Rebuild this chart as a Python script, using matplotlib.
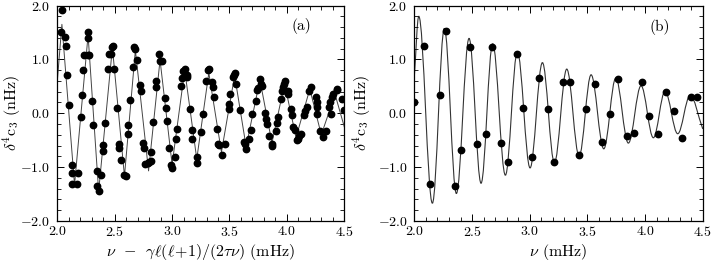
import matplotlib
matplotlib.use("Agg")
import matplotlib.pyplot as plt
from matplotlib.path import Path
from matplotlib.patches import PathPatch
from matplotlib.ticker import MultipleLocator, FuncFormatter

plt.rcParams["font.family"] = "serif"
plt.rcParams["font.serif"] = ["cmr10", "DejaVu Serif"]
plt.rcParams["mathtext.fontset"] = "cm"
plt.rcParams["axes.unicode_minus"] = False

# panel (a): measured points (frequency in mHz, delta^4 c3 in nHz)
a_freq = [2.032, 2.038, 2.064, 2.076, 2.087, 2.099, 2.128, 2.128, 2.131, 2.169,
          2.180, 2.204, 2.215, 2.227, 2.235, 2.267, 2.267, 2.270, 2.276, 2.305,
          2.307, 2.343, 2.343, 2.363, 2.381, 2.400, 2.401, 2.413, 2.439, 2.450,
          2.465, 2.480, 2.486, 2.497, 2.517, 2.535, 2.535, 2.552, 2.584, 2.596,
          2.619, 2.619, 2.633, 2.657, 2.671, 2.676, 2.694, 2.718, 2.727, 2.749,
          2.758, 2.767, 2.790, 2.800, 2.814, 2.814, 2.836, 2.857, 2.857, 2.886,
          2.897, 2.909, 2.935, 2.944, 2.953, 2.973, 2.993, 2.999, 3.022, 3.037,
          3.045, 3.075, 3.084, 3.098, 3.112, 3.130, 3.130, 3.159, 3.176, 3.176,
          3.220, 3.220, 3.252, 3.266, 3.293, 3.313, 3.318, 3.348, 3.356, 3.368,
          3.394, 3.403, 3.412, 3.432, 3.461, 3.496, 3.496, 3.504, 3.533, 3.542,
          3.548, 3.560, 3.591, 3.629, 3.635, 3.644, 3.672, 3.684, 3.700, 3.731,
          3.737, 3.745, 3.763, 3.774, 3.780, 3.810, 3.818, 3.829, 3.847, 3.870,
          3.873, 3.902, 3.916, 3.925, 3.949, 3.955, 3.963, 3.975, 3.983, 4.007,
          4.012, 4.040, 4.047, 4.056, 4.070, 4.091, 4.099, 4.108, 4.120, 4.152,
          4.160, 4.172, 4.195, 4.212, 4.253, 4.260, 4.260, 4.260, 4.288, 4.317,
          4.338, 4.370, 4.380, 4.384, 4.390, 4.405, 4.434, 4.440, 4.477, 4.497]
a_dc3 = [1.50, 1.91, 1.42, 1.25, 0.71, 0.155, -0.966, -1.108, -1.316, -1.316,
         -1.107, -0.07, 0.34, 0.81, 1.077, 1.077, 1.40, 1.51, 1.077, 0.22,
         -0.214, -1.076, -1.352, -1.445, -1.15, -0.694, -0.596, -0.177, 0.82, 1.096,
         1.10, 1.236, 1.25, 0.825, 0.10, -0.578, -0.64, -0.86, -1.137, -1.168,
         -0.38, -0.227, 0.247, 0.867, 1.23, 1.20, 0.99, 0.53, 0.42, -0.553,
         -0.646, -0.934, -0.92, -0.91, -0.88, -0.72, -0.166, 0.59, 0.487, 1.096,
         0.97, 0.97, 0.29, 0.092, -0.153, -0.64, -0.952, -1.008, -0.81, -0.472,
         -0.29, 0.50, 0.65, 0.79, 0.82, 0.71, 0.67, 0.074, -0.32, -0.48,
         -0.81, -0.915, -0.35, -0.01, 0.59, 0.81, 0.83, 0.58, 0.49, 0.295,
         -0.30, -0.565, -0.59, -0.77, -0.565, 0.17, 0.08, 0.36, 0.664, 0.714,
         0.738, 0.54, 0.063, -0.535, -0.578, -0.657, -0.47, -0.32, -0.01, 0.234,
         0.43, 0.46, 0.635, 0.543, 0.51, 0.0, -0.10, -0.196, -0.42, -0.60,
         -0.565, -0.33, -0.18, -0.075, 0.266, 0.42, 0.49, 0.55, 0.59, 0.406,
         0.36, 0.087, -0.04, -0.26, -0.32, -0.503, -0.47, -0.43, -0.393, -0.03,
         0.05, 0.11, 0.42, 0.48, 0.295, 0.20, 0.12, -0.02, -0.33, -0.45,
         -0.33, 0.11, 0.20, -0.01, 0.295, 0.36, 0.45, 0.43, 0.266, 0.06]

# panel (a): fitted line, turning points
a_line_freq = [2.000, 2.040, 2.150, 2.268, 2.360, 2.480, 2.585, 2.680, 2.795, 2.895,
               3.000, 3.110, 3.215, 3.320, 3.430, 3.545, 3.645, 3.765, 3.870, 3.980,
               4.080, 4.200, 4.300, 4.420, 4.500]
a_line_dc3 = [0.60, 1.65, -1.33, 1.45, -1.45, 1.22, -1.17, 1.17, -1.07, 0.99,
              -0.95, 0.80, -0.85, 0.75, -0.72, 0.70, -0.62, 0.62, -0.55, 0.55,
              -0.45, 0.45, -0.40, 0.35, -0.25]

# panel (b): measured points
b_freq = [2.000, 2.084, 2.139, 2.220, 2.275, 2.353, 2.405, 2.483, 2.540, 2.618,
          2.673, 2.751, 2.809, 2.887, 2.945, 3.020, 3.078, 3.156, 3.214, 3.292,
          3.353, 3.428, 3.486, 3.566, 3.624, 3.699, 3.763, 3.841, 3.902, 3.977,
          4.038, 4.116, 4.179, 4.254, 4.318, 4.396, 4.454]
b_dc3 = [0.215, 1.243, -1.305, 0.332, 1.526, -1.354, -0.69, 1.23, -0.58, -0.38,
         1.237, -0.554, -0.898, 1.095, 0.098, -0.81, 0.652, 0.074, -0.905, 0.585,
         0.572, -0.77, 0.074, 0.535, -0.535, -0.012, 0.64, -0.425, -0.363, 0.585,
         -0.05, -0.394, 0.394, 0.043, -0.455, 0.30, 0.30]

# panel (b): model curve, turning points
b_curve_freq = [2.000, 2.038, 2.156, 2.260, 2.364, 2.474, 2.578, 2.679, 2.789, 2.893,
                3.003, 3.110, 3.214, 3.321, 3.428, 3.532, 3.642, 3.746, 3.855, 3.965,
                4.072, 4.173, 4.283, 4.390, 4.500]
b_curve_dc3 = [0.70, 1.80, -1.67, 1.575, -1.49, 1.39, -1.30, 1.29, -1.15, 1.14,
               -1.015, 0.94, -0.917, 0.82, -0.795, 0.714, -0.66, 0.652, -0.554, 0.51,
               -0.455, 0.406, -0.38, 0.326, -0.29]


def smooth_path(xs, ys, k=0.36):
    # cubic Bezier segments between turning points, flat at the extrema
    verts = [(xs[0], ys[0])]
    codes = [Path.MOVETO]
    n = len(xs)
    for i in range(n - 1):
        dx = xs[i + 1] - xs[i]
        dy = ys[i + 1] - ys[i]
        if i == 0:
            c1 = (xs[i] + k * dx, ys[i] + k * dy)
        else:
            c1 = (xs[i] + k * dx, ys[i])
        if i == n - 2:
            c2 = (xs[i + 1] - k * dx, ys[i + 1] - k * dy)
        else:
            c2 = (xs[i + 1] - k * dx, ys[i + 1])
        verts += [c1, c2, (xs[i + 1], ys[i + 1])]
        codes += [Path.CURVE4] * 3
    return Path(verts, codes)


def style_axes(ax, ylab_x):
    ax.set_xlim(2.0, 4.5)
    ax.set_ylim(-2.0, 2.0)
    ax.xaxis.set_major_locator(MultipleLocator(0.5))
    ax.xaxis.set_minor_locator(MultipleLocator(0.1))
    ax.yaxis.set_major_locator(MultipleLocator(1.0))
    ax.yaxis.set_minor_locator(MultipleLocator(0.2))
    fmt = FuncFormatter(lambda v, p: "$%.1f$" % v)
    ax.xaxis.set_major_formatter(fmt)
    ax.yaxis.set_major_formatter(fmt)
    ax.tick_params(which="both", direction="in", top=True, right=True, labelsize=10)
    ax.tick_params(which="major", length=5, width=0.7)
    ax.tick_params(which="minor", length=3, width=0.6)
    ax.tick_params(axis="x", pad=3)
    ax.tick_params(axis="y", pad=5)
    for s in ax.spines.values():
        s.set_linewidth(0.9)
    ax.set_ylabel(r"$\delta^4\mathrm{c}_3$ (nHz)", fontsize=11.5)
    ax.yaxis.set_label_coords(ylab_x, 0.5)


fig = plt.figure(figsize=(7.12, 2.62), dpi=100)
ax1 = fig.add_axes([0.0805, 0.1565, 0.403, 0.8225])
ax2 = fig.add_axes([0.582, 0.1565, 0.405, 0.8225])

ax1.plot(a_line_freq, a_line_dc3, color="#444444", lw=0.7)
ax1.plot(a_freq, a_dc3, "o", color="black", markersize=4.6)
style_axes(ax1, -0.12)
ax1.set_xlabel(r"$\nu\ \,-\ \,\gamma\ell(\ell\!+\!1)/(2\tau\nu)$ (mHz)", fontsize=11.5, labelpad=2)
ax1.text(0.85, 0.905, "(a)", transform=ax1.transAxes, fontsize=11, ha="center", va="center")

ax2.add_patch(PathPatch(smooth_path(b_curve_freq, b_curve_dc3), fill=False,
                        edgecolor="#333333", lw=0.8))
ax2.plot(b_freq, b_dc3, "o", color="black", markersize=4.6)
style_axes(ax2, -0.143)
ax2.set_xlabel(r"$\nu$ (mHz)", fontsize=11.5, labelpad=2)
ax2.text(0.852, 0.90, "(b)", transform=ax2.transAxes, fontsize=11, ha="center", va="center")

fig.savefig("out.png", dpi=100)
plt.close()
